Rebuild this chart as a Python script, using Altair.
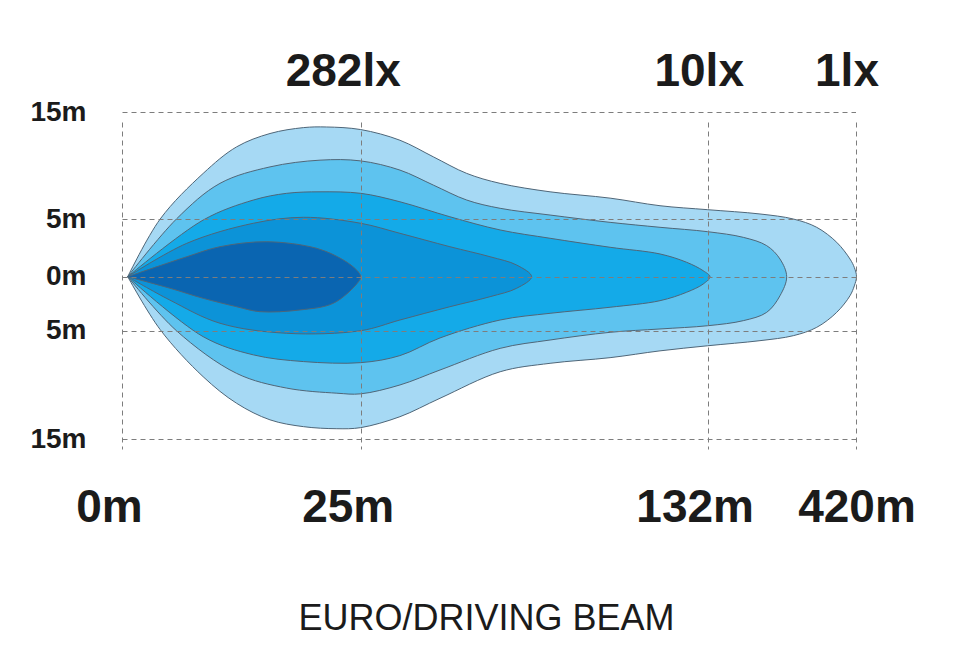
import altair as alt
import pandas as pd

FONT = "Liberation Sans, Arial, Helvetica, sans-serif"

# axis ticks
dist_ticks = [0, 25, 132, 420]            # distance (m)
lux_ticks = [25, 132, 420]                # where the lux labels sit
lux_labels = ["282lx", "10lx", "1lx"]
width_ticks = [-15, -5, 0, 5, 15]          # lateral spread (m)

# beam contours: distance (m) and lateral offset (m), upper edge then lower edge
c1_x = [0.6, 4.0, 8.5, 12.0, 15.5, 19.0, 21.4, 25, 37.1, 47.4, 57.7, 68.0, 83.4, 101.9, 117.3, 132,
        233.9, 298.8, 344.4, 383.4, 409.3, 417.7, 422,
        417.7, 409.3, 383.4, 344.4, 298.8, 233.9, 132, 117.3, 101.9, 83.4, 68.0, 49.45, 37.1, 25, 22.5,
        19.0, 15.5, 12.0, 8.5, 4.0, 0.6]
c1_y = [0, 5.0, 9.26, 11.74, 12.99, 13.54, 13.6, 13.36, 12.36, 10.81, 9.26, 8.33, 7.54, 6.95, 6.24, 5.87,
        5.47, 5.0, 4.28, 2.98, 1.53, 0.8, 0,
        -0.85, -1.76, -3.30, -4.69, -5.46, -5.92, -6.39, -6.86, -7.49, -8.01, -8.79, -11.24, -12.94, -13.95, -14.05,
        -13.86, -13.23, -11.70, -9.25, -4.9, 0]

c2_x = [0.6, 5.7, 10.26, 15.5, 20.74, 25, 37.1, 47.4, 57.7, 68.0, 83.4, 101.9, 117.3, 132, 201.4, 247, 272.9, 285.9,
        272.9, 247, 201.4, 132, 117.3, 101.9, 83.4, 68.0, 49.45, 37.1, 25, 22.5, 17.25, 12.0, 5.7, 0.6]
c2_y = [0, 5.0, 8.33, 9.87, 10.50, 10.43, 9.57, 8.17, 6.77, 6.0, 5.37, 4.71, 4.28, 3.90, 3.41, 2.69, 1.53, 0,
        -1.76, -3.30, -4.07, -4.54, -4.84, -5.15, -5.86, -6.63, -8.63, -10.01, -10.83, -10.77, -10.30, -8.94, -5.0, 0]

c3_x = [0.6, 8.5, 13.75, 17.25, 20.74, 25, 37.1, 52.5, 68.0, 83.4, 101.9, 117.3, 125.5, 130.6, 136.5,
        130.6, 125.5, 117.3, 101.9, 83.4, 68.0, 49.45, 37.1, 25, 19.0, 13.75, 8.5, 0.6]
c3_y = [0, 4.91, 6.77, 7.40, 7.54, 7.40, 6.61, 5.21, 4.05, 3.33, 2.55, 1.97, 1.25, 0.52, 0,
        -0.68, -1.44, -2.22, -2.83, -3.39, -4.01, -5.67, -7.30, -7.95, -7.85, -7.23, -5.55, 0]

c4_x = [0.6, 6.78, 13.75, 19.0, 25, 37.1, 52.5, 64.9, 73.1, 77.7,
        73.1, 64.9, 52.5, 37.1, 25, 17.25, 10.26, 5.0, 0.6]
c4_y = [0, 2.89, 4.63, 5.16, 4.63, 3.76, 2.60, 1.73, 1.01, 0,
        -1.07, -1.85, -2.78, -4.01, -5.0, -5.24, -4.31, -2.16, 0]

c5_x = [0.6, 6.78, 10.26, 15.16, 20.39, 23.18, 24.6, 25,
        24.6, 22.13, 18.64, 14.45, 12.0, 8.5, 5.03, 0.6]
c5_y = [0, 1.73, 2.60, 3.03, 2.46, 1.45, 0.55, 0,
        -0.65, -2.46, -3.08, -3.24, -2.78, -2.0, -1.07, 0]

contours = [(c1_x, c1_y, "#a6d9f4"), (c2_x, c2_y, "#5ec3ef"), (c3_x, c3_y, "#14aae8"),
            (c4_x, c4_y, "#0c93d8"), (c5_x, c5_y, "#0a65b1")]

xscale = alt.Scale(domain=dist_ticks, range=[0, 238.7, 585.7, 733.5], nice=False, zero=False)
yscale = alt.Scale(domain=width_ticks, range=[346, 237.7, 183.7, 126, 19], nice=False, zero=False)

GRID = "#7d7d7d"
TXT = "#1b1b1b"

x_bottom = alt.Axis(
    values=dist_ticks, labelExpr="datum.value + 'm'", orient="bottom",
    grid=True, gridDash=[5, 4], gridColor=GRID, gridWidth=1,
    domain=False, ticks=False, labelFlush=False, labelOverlap=False, labelBound=False,
    labelFont=FONT, labelFontSize=46, labelFontWeight="bold", labelColor=TXT,
    labelBaseline="alphabetic", labelPadding=53,
    labelOffset={"condition": {"test": "datum.value == 420", "value": 1}, "value": -13},
    title="EURO/DRIVING BEAM", titleFont=FONT, titleFontSize=36, titleFontWeight="normal",
    titleColor=TXT, titleX=364, titleY=161, titleBaseline="alphabetic", titleAlign="center",
    zindex=1,
)

lux_expr = " : ".join(
    f"datum.value == {v} ? '{t}'" for v, t in zip(lux_ticks[:-1], lux_labels[:-1])
) + f" : '{lux_labels[-1]}'"

x_top = alt.Axis(
    values=lux_ticks, labelExpr=lux_expr, orient="top",
    grid=False, domain=False, ticks=False, labelFlush=False, labelOverlap=False, labelBound=False,
    labelFont=FONT, labelFontSize=46, labelFontWeight="bold", labelColor=TXT,
    labelBaseline="alphabetic", labelPadding=8,
    labelOffset={"condition": {"test": "datum.value == 25", "value": -18}, "value": -9},
    title=None,
)

y_axis = alt.Axis(
    values=width_ticks, labelExpr="abs(datum.value) + 'm'",
    grid=True, gridDash=[5, 4], gridColor=GRID, gridWidth=1,
    domain=False, ticks=False, labelFlush=False, labelOverlap=False,
    labelFont=FONT, labelFontSize=28, labelFontWeight="bold", labelColor=TXT,
    labelPadding=36, title=None, zindex=1,
)

layers = []
for k, (xs, ys, col) in enumerate(contours):
    df = pd.DataFrame({"d": xs, "w": ys, "i": list(range(len(xs)))})
    if k == 0:
        xa = x_bottom
    elif k == 1:
        xa = x_top
    else:
        xa = None
    layer = alt.Chart(df).mark_line(
        fill=col, stroke="#4f6678", strokeWidth=1, interpolate="catmull-rom"
    ).encode(
        x=alt.X("d:Q", scale=xscale, axis=xa),
        y=alt.Y("w:Q", scale=yscale, axis=y_axis),
        order=alt.Order("i:Q"),
    )
    layers.append(layer)

chart = alt.layer(*layers).resolve_axis(x="independent").properties(
    width=758, height=375,
    padding={"left": 114, "top": 85, "right": 60, "bottom": 180},
    autosize=alt.AutoSizeParams(type="none"),
    background="white",
).configure_view(stroke=None)

chart.save("out.html", embed_options={"renderer": "svg", "actions": False})
